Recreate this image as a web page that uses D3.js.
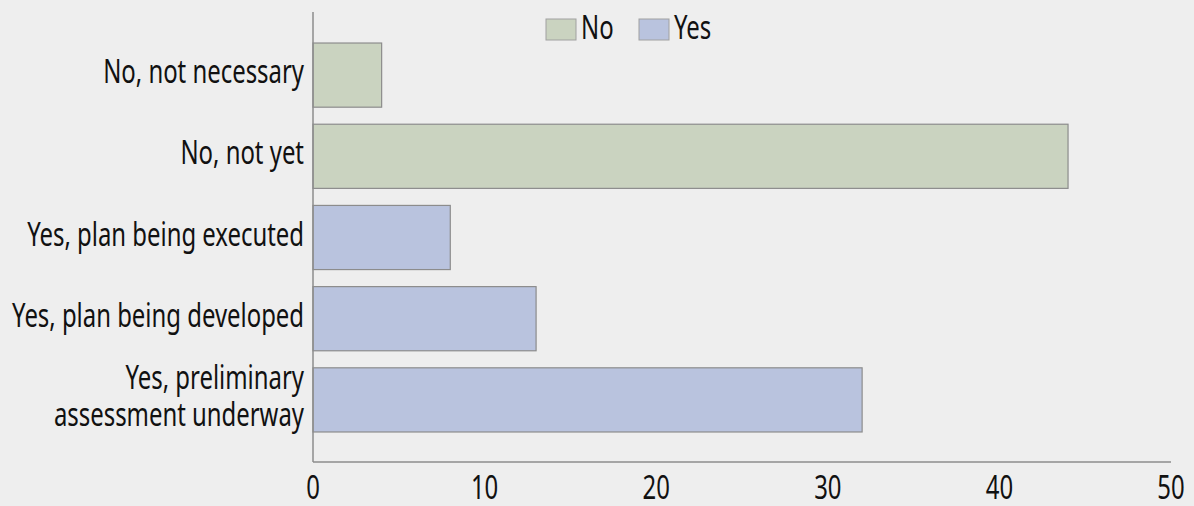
<!DOCTYPE html>
<html>
<head>
<meta charset="utf-8">
<script src="https://cdn.jsdelivr.net/npm/d3@7"></script>
<style>
  html, body { margin: 0; padding: 0; background: #eeeeee; }
  svg { display: block; }
  text { font-family: "Noto Sans", "Open Sans", sans-serif; fill: #111; }
</style>
</head>
<body>
<svg id="chart" width="1194" height="506"></svg>
<script>
const categories = [
  "No, not necessary",
  "No, not yet",
  "Yes, plan being executed",
  "Yes, plan being developed",
  "Yes, preliminary|assessment underway"
];
const groups = ["No", "No", "Yes", "Yes", "Yes"];
const values = [4, 44, 8, 13, 32];
const xTicks = [0, 10, 20, 30, 40, 50];
const legendKeys = ["No", "Yes"];
const colors = { No: "#cad3c0", Yes: "#b9c3de" };

const FS = 33;
const svg = d3.select("#chart");
svg.append("rect").attr("width", 1194).attr("height", 506).attr("fill", "#eeeeee");

// horizontal condense factor so that label widths match a condensed face
const probe = svg.append("text").style("font-size", FS + "px").text("No, not necessary");
const SX = 201 / probe.node().getComputedTextLength();
probe.remove();

function label(x0, y0, lines, anchor, lh) {
  const g = svg.append("g").attr("transform", `translate(${x0},${y0}) scale(${SX},1)`);
  const t = g.append("text").attr("text-anchor", anchor).style("font-size", FS + "px");
  lines.forEach((ln, i) => {
    t.append("tspan").attr("x", 0).attr("y", i * (lh || 0)).text(ln);
  });
  return g;
}

const x0 = 313, x1 = 1171, yTop = 12, yBot = 462;
const x = d3.scaleLinear().domain([0, 50]).range([x0, x1]);
const y = d3.scaleBand().domain(categories).range([34.5, 440.5]).paddingInner(17/81).paddingOuter(0.105);

const data = categories.map((c, i) => ({ cat: c, group: groups[i], value: values[i] }));

svg.selectAll("rect.bar").data(data).enter().append("rect")
  .attr("class", "bar")
  .attr("x", x(0))
  .attr("y", d => y(d.cat))
  .attr("width", d => x(d.value) - x(0))
  .attr("height", y.bandwidth())
  .attr("fill", d => colors[d.group])
  .attr("stroke", "#8c8c8c")
  .attr("stroke-width", 1.2);

// axis lines
svg.append("line").attr("x1", x0).attr("x2", x0).attr("y1", yTop).attr("y2", yBot)
  .attr("stroke", "#8c8c8c").attr("stroke-width", 1.5);
svg.append("line").attr("x1", x0).attr("x2", x1).attr("y1", yBot).attr("y2", yBot)
  .attr("stroke", "#8c8c8c").attr("stroke-width", 1.5);

// x tick labels
xTicks.forEach(t => label(x(t), 499, [d3.format("d")(t)], "middle"));

// y category labels
data.forEach(d => {
  const lines = d.cat.split("|");
  const cy = y(d.cat) + y.bandwidth() / 2;
  const lh = 37;
  label(304, cy - (lines.length - 1) / 2 * lh + 8, lines, "end", lh);
});

// legend
const legendX = [546, 639];
legendKeys.forEach((k, i) => {
  svg.append("rect").attr("x", legendX[i]).attr("y", 19).attr("width", 30).attr("height", 21)
    .attr("fill", colors[k]).attr("stroke", "#a0a0a0").attr("stroke-width", 1);
  label(legendX[i] + 35, 39, [k], "start");
});
</script>
</body>
</html>
